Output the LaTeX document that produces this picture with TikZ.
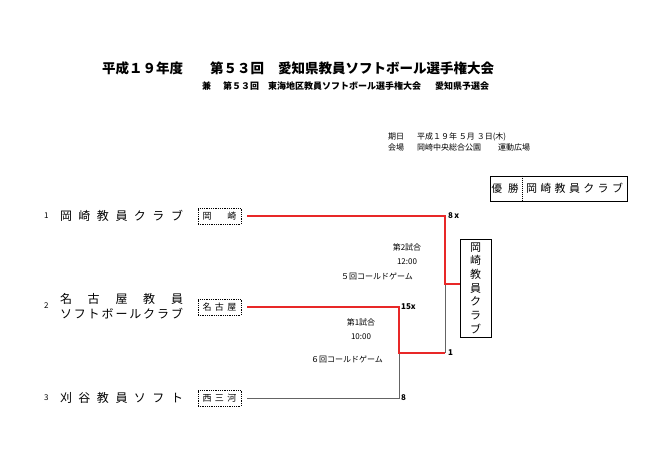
\documentclass[tikz,border=0pt]{standalone}
\usepackage{fontspec}
\setmainfont{Noto Sans CJK JP}
\usetikzlibrary{positioning}
\definecolor{winred}{RGB}{232,40,40}
\definecolor{lostgray}{RGB}{100,100,100}
\newcommand{\spr}[2]{\makebox[#1][s]{#2}}

\begin{document}
\begin{tikzpicture}[x=1pt,y=-1pt,
    every node/.style={inner sep=0pt},
    title/.style={anchor=west,font=\fontsize{13.5}{16}\selectfont\bfseries},
    sub/.style={anchor=west,font=\fontsize{9}{11}\selectfont\bfseries},
    info/.style={anchor=west,font=\fontsize{8}{10}\selectfont},
    team/.style={font=\fontsize{12}{15}\selectfont,align=center},
    seed/.style={font=\fontsize{8}{10}\selectfont},
    tag/.style={draw,densely dotted,line width=0.8pt,minimum width=43pt,minimum height=16pt,font=\fontsize{9}{10}\selectfont},
    won/.style={draw=winred,line width=1.4pt},
    lost/.style={draw=lostgray,line width=0.9pt},
    score/.style={font=\fontsize{8}{10}\selectfont\bfseries},
    note/.style={font=\fontsize{8}{10}\selectfont}]
  \useasboundingbox[fill=white] (0,0) rectangle (650,476);
  \node[title] (t1) at (102,68) {平成１９年度};
  \node[title] (t2) at (210,68) {第５３回};
  \node[title] (t3) at (278,68) {愛知県教員ソフトボール選手権大会};
  \node[sub] (s1) at (202,86) {兼};
  \node[sub] (s2) at (223,86) {第５３回};
  \node[sub] (s3) at (268,86) {東海地区教員ソフトボール選手権大会};
  \node[sub] (s4) at (435,86) {愛知県予選会};
  \node[info] (d1) at (388,137) {期日};
  \node[info] (d2) at (417,137) {平成１９年 ５月 ３日(木)};
  \node[info] (p1) at (388,147) {会場};
  \node[info] (p2) at (417,147) {岡崎中央総合公園};
  \node[info] (p3) at (498,147) {運動広場};

  \node[draw,line width=1pt,minimum width=137pt,minimum height=25pt] (champ) at (558.5,188.5) {};
  \node[font=\fontsize{10.5}{13}\selectfont] (cl) at (505,188.5) {\spr{27pt}{優\hfill 勝}};
  \node[font=\fontsize{11}{13}\selectfont] (cn) at (574.5,188.5) {\spr{97pt}{岡\hfill 崎\hfill 教\hfill 員\hfill ク\hfill ラ\hfill ブ}};
  \coordinate (cut) at (522,188.5);
  \draw[densely dotted,line width=1pt] (cut |- champ.north) -- (cut |- champ.south);

  \node[team] (n1) at (121.5,216) {\spr{123pt}{岡\hfill 崎\hfill 教\hfill 員\hfill ク\hfill ラ\hfill ブ}};
  \node[team] (n2) at (121.5,306) {\spr{123pt}{名\hfill 古\hfill 屋\hfill 教\hfill 員}\\
    \spr{123pt}{ソ\hfill フ\hfill ト\hfill ボ\hfill ー\hfill ル\hfill ク\hfill ラ\hfill ブ}};
  \node[team] (n3) at (121.5,398) {\spr{123pt}{刈\hfill 谷\hfill 教\hfill 員\hfill ソ\hfill フ\hfill ト}};
  \node[seed,left=11pt of n1] (k1) {1};
  \node[seed,left=11pt of n2] (k2) {2};
  \node[seed,left=11pt of n3] (k3) {3};
  \node[tag] (b1) at (219.5,216) {\spr{34pt}{岡\hfill 崎}};
  \node[tag] (b2) at (219.5,307) {\spr{34pt}{名\hfill 古\hfill 屋}};
  \node[tag] (b3) at (219.5,398) {\spr{34pt}{西\hfill 三\hfill 河}};

  \node[draw,line width=0.9pt,minimum width=31pt,minimum height=98pt,align=center,
    font=\fontsize{11}{13.7}\selectfont] (w) at (475.5,288) {岡\\崎\\教\\員\\ク\\ラ\\ブ};

  \coordinate (r1) at (445,216);
  \coordinate (j2) at (445,284);
  \coordinate (r2) at (399,307);
  \coordinate (j1) at (399,353);
  \coordinate (f1) at (445,353);
  \coordinate (r3) at (399,398);

  \draw[lost,shorten <=6pt] (b3.east) -- (r3) -- (j1);
  \draw[lost] (f1) -- (j2);
  \draw[won,shorten <=6pt] (b1.east) -- (r1) -- (j2) -- (j2 -| w.west);
  \draw[won,shorten <=6pt] (b2.east) -- (r2) -- (j1) -- (f1);

  \node[score,right=3pt of r1] (sc1) {8\,x};
  \node[score,right=2pt of r2] (sc2) {15x};
  \node[score,right=3pt of f1] (sc3) {1};
  \node[score,right=2pt of r3] (sc4) {8};

  \node[note] (g2) at (407,247) {第2試合};
  \node[note] (h2) at (407,262) {12:00};
  \node[note] (c2) at (377,276) {５回コールドゲーム};
  \node[note] (g1) at (361,322) {第1試合};
  \node[note] (h1) at (361,337) {10:00};
  \node[note] (c1) at (347,359) {６回コールドゲーム};
\end{tikzpicture}
\end{document}
